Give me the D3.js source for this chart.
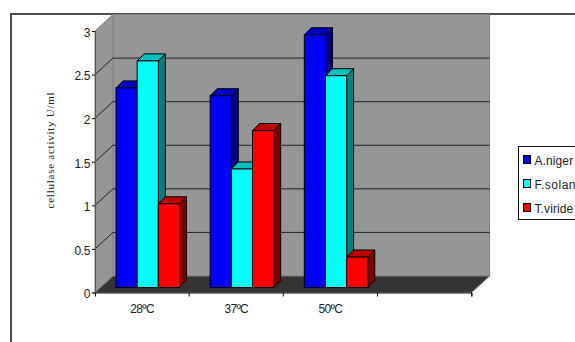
<!DOCTYPE html>
<html>
<head>
<meta charset="utf-8">
<script src="https://cdn.jsdelivr.net/npm/d3@7"></script>
<style>
html, body { margin: 0; padding: 0; background: #fff; overflow: hidden; }
svg { display: block; }
</style>
</head>
<body>
<svg id="chart" width="575" height="342"></svg>
<script>
const categorias = ["28ºC", "37ºC", "50ºC", ""];
const series = ["A.niger", "F.solani", "T.viride"];
const aniger = [2.29, 2.2, 2.9];
const fsolani = [2.6, 1.36, 2.43];
const tviride = [0.96, 1.8, 0.35];
const ticks = [0, 0.5, 1, 1.5, 2, 2.5, 3];
const colores = ["#0000ff", "#00ffff", "#ff0000"];
const techos = ["#0000c0", "#00c0c0", "#c00000"];
const lados = ["#000080", "#008080", "#800000"];

const valores = [aniger, fsolani, tviride];
const svg = d3.select("#chart");

// marco exterior
svg.append("rect").attr("x", 11).attr("y", 14).attr("width", 600).attr("height", 400)
    .attr("fill", "#fff").attr("stroke", "#222").attr("stroke-width", 1.6);

// escalas
const x = d3.scaleBand().domain(categorias).range([95, 471.6]);
const xSerie = d3.scaleBand().domain(series).range([21, 84.5]);
const y = d3.scaleLinear().domain([0, 3]).range([292.5, 31]);
const dx = 18, dy = -16.5;   // profundidad de las paredes
const bx = 7, by = -7;       // profundidad de las barras
const yBase = 287.5;
const unidad = y(0) - y(1);

// paredes
const x0 = x.range()[0], x1 = x.range()[1];
svg.append("polygon")
    .attr("points", [[x0 + dx, y(3) + dy], [x1 + dx, y(3) + dy], [x1 + dx, y(0) + dy], [x0 + dx, y(0) + dy]].join(" "))
    .attr("fill", "#969696").attr("stroke", "#808080");
svg.append("polygon")
    .attr("points", [[x0, y(3)], [x0 + dx, y(3) + dy], [x0 + dx, y(0) + dy], [x0, y(0)]].join(" "))
    .attr("fill", "#969696").attr("stroke", "#808080");
svg.append("polygon")
    .attr("points", [[x0, y(0)], [x0 + dx, y(0) + dy], [x1 + dx, y(0) + dy], [x1, y(0)]].join(" "))
    .attr("fill", "#333").attr("stroke", "#808080");

// rejilla
ticks.filter(t => t > 0 && t < 3).forEach(t => {
    svg.append("path")
        .attr("d", `M${x0},${y(t)}L${x0 + dx},${y(t) + dy}H${x1 + dx}`)
        .attr("fill", "none").attr("stroke", "#222").attr("stroke-width", 1);
});

// barras
series.forEach((s, i) => {
    const g = svg.append("g");
    categorias.slice(0, 3).forEach((c, j) => {
        const izq = x(c) + xSerie(s);
        const der = izq + xSerie.bandwidth();
        const top = yBase - valores[i][j] * unidad;
        g.append("polygon")
            .attr("points", [[der, top], [der + bx, top + by], [der + bx, yBase + by], [der, yBase]].join(" "))
            .attr("fill", lados[i]).attr("stroke", "#000").attr("stroke-width", 1);
        g.append("polygon")
            .attr("points", [[izq, top], [izq + bx, top + by], [der + bx, top + by], [der, top]].join(" "))
            .attr("fill", techos[i]).attr("stroke", "#000").attr("stroke-width", 1);
        g.append("rect")
            .attr("x", izq).attr("y", top)
            .attr("width", der - izq).attr("height", yBase - top)
            .attr("fill", colores[i]).attr("stroke", "#000").attr("stroke-width", 1);
    });
});

// ejes
const ejeY = svg.append("g").attr("transform", `translate(${x0},0)`)
    .call(d3.axisLeft(y).tickValues(ticks).tickFormat(d => d).tickSize(3).tickPadding(2));
const ejeX = svg.append("g").attr("transform", `translate(0,${y(0)})`)
    .call(d3.axisBottom(x).tickSize(4).tickPadding(8).tickSizeOuter(4));
ejeX.selectAll(".tick line").attr("transform", `translate(${x.bandwidth() / 2},0)`);
ejeY.selectAll("text").attr("dy", "0.45em").style("font-family", "Liberation Sans").style("font-size", "12px")
    .style("letter-spacing", "-0.4px").attr("fill", "#222");
ejeX.selectAll("text").style("font-family", "Liberation Sans").style("font-size", "12px")
    .style("letter-spacing", "-0.7px").attr("fill", "#222");
ejeY.selectAll("line").attr("stroke", "#111");
ejeY.select(".domain").attr("stroke", "#555");
ejeX.selectAll("path,line").attr("stroke", "#111");

// titulo del eje
svg.append("text")
    .attr("transform", "translate(54,150) rotate(-90)")
    .attr("text-anchor", "middle")
    .style("font-family", "Liberation Serif").style("font-size", "11px")
    .style("letter-spacing", "0.75px").attr("fill", "#222")
    .text("cellulase activity U/ml");

// leyenda
const leyenda = svg.append("g").attr("transform", "translate(518.5,146.5)");
leyenda.append("rect").attr("width", 90).attr("height", 73)
    .attr("fill", "#fff").attr("stroke", "#111");
series.forEach((s, i) => {
    const fila = leyenda.append("g").attr("transform", `translate(0,${i * 24})`);
    fila.append("rect").attr("x", 5).attr("y", 9).attr("width", 7).attr("height", 8)
        .attr("fill", colores[i]).attr("stroke", "#000").attr("stroke-width", 1);
    fila.append("text").attr("x", 16).attr("y", 18).text(s)
        .style("font-family", "Liberation Sans").style("font-size", "12px")
        .style("letter-spacing", i === 1 ? "0.5px" : "0.1px").attr("fill", "#222");
});
</script>
</body>
</html>
